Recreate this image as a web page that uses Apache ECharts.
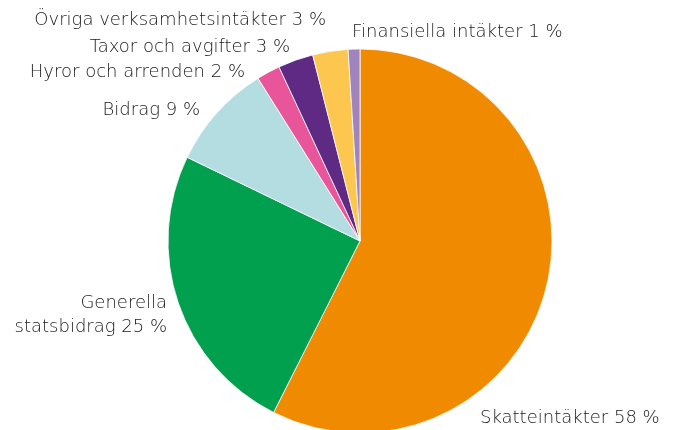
<!DOCTYPE html>
<html>
<head>
<meta charset="utf-8">
<script src="https://cdn.jsdelivr.net/npm/echarts@6/dist/echarts.min.js"></script>
<style>
  html, body { margin: 0; padding: 0; background: #fff; }
  #chart { width: 673px; height: 430px; }
</style>
</head>
<body>
<div id="chart"></div>
<script>
var names = [
  "Skatteintäkter",
  "Generella\nstatsbidrag",
  "Bidrag",
  "Hyror och arrenden",
  "Taxor och avgifter",
  "Övriga verksamhetsintäkter",
  "Finansiella intäkter"
];
var values = [58, 25, 9, 2, 3, 3, 1];
var colors = ["#f08a00", "#00a04f", "#b3dde1", "#e8559a", "#5e2a84", "#fdc64e", "#a084bd"];

// label anchor points (text placement only)
var labelPos = [
  { x: 480, y: 418, align: "left" },
  { x: 167, y: 315, align: "right" },
  { x: 200, y: 110, align: "right" },
  { x: 245, y: 72, align: "right" },
  { x: 290, y: 47, align: "right" },
  { x: 326, y: 20, align: "right" },
  { x: 352, y: 32, align: "left" }
];

var dom = document.getElementById("chart");
var myChart = echarts.init(dom);
var option = {
  animation: false,
  series: [
    {
      type: "pie",
      center: [360, 241],
      radius: 192,
      startAngle: 90,
      clockwise: true,
      color: colors,
      itemStyle: { borderColor: "#fff", borderWidth: 0.8 },
      label: {
        show: true,
        position: "outside",
        overflow: "none",
        formatter: function (p) { return p.name + " " + p.value + " %"; },
        fontFamily: "DejaVu Sans",
        fontWeight: 200,
        fontSize: 18,
        lineHeight: 24,
        color: "#1a1a1a"
      },
      labelLine: { show: false },
      labelLayout: function (params) {
        var p = labelPos[params.dataIndex];
        return {
          x: p.x,
          y: p.y,
          align: p.align,
          verticalAlign: "middle",
          width: 400
        };
      },
      data: values.map(function (v, i) { return { name: names[i], value: v }; })
    }
  ]
};
myChart.setOption(option);
</script>
</body>
</html>
